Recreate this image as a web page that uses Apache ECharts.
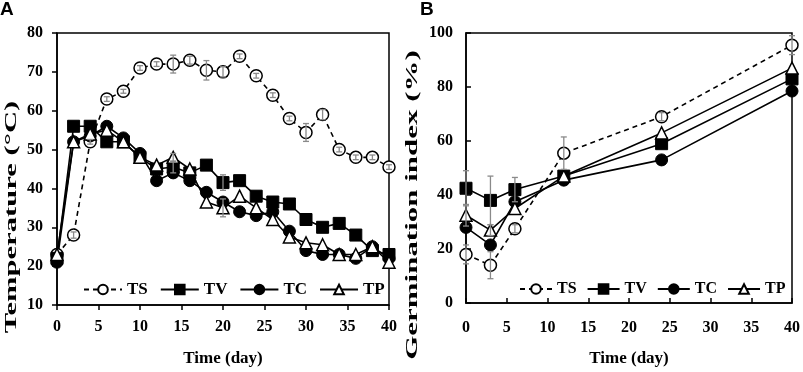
<!DOCTYPE html>
<html>
<head>
<meta charset="utf-8">
<script src="https://cdn.jsdelivr.net/npm/echarts@6/dist/echarts.min.js"></script>
<style>
html,body{margin:0;padding:0;background:#fff;}
#c{width:803px;height:372px;}
</style>
</head>
<body>
<div id="c"></div>
<script>
// ---------- Data ----------
const seriesNames = ['TS', 'TV', 'TC', 'TP'];
const xTicks = [0, 5, 10, 15, 20, 25, 30, 35, 40];

// Panel A: temperature (°C) vs time (day)
const daysA = [0, 2, 4, 6, 8, 10, 12, 14, 16, 18, 20, 22, 24, 26, 28, 30, 32, 34, 36, 38, 40];
const tsA = [23, 28, 52, 63, 65, 71, 72, 72, 73, 70.4, 70, 74, 69, 64, 58, 54.4, 59, 50, 48, 48, 45.5];
const tvA = [22, 56, 56, 52, 52, 48, 45, 45.5, 44, 46, 41.5, 42, 38, 36.5, 36, 32, 30, 31, 28, 24, 23];
const tcA = [21, 52, 53.5, 56, 53, 49, 42, 44, 42, 39, 36.5, 34, 33, 34, 29, 24, 23, 23, 22, 25, 22];
const tpA = [23, 52, 54, 55, 52, 48, 46, 48, 45, 36.5, 35, 38, 35, 32, 27.5, 26, 25.5, 23, 23, 25, 21];
const tsAErr = [0, 0.8, 0.6, 0.6, 0.5, 0.6, 0.6, 2.3, 1.0, 2.5, 1.3, 0.6, 0.6, 0.6, 0.6, 2.3, 1.3, 0.6, 0.6, 0.6, 0.6];
const tvAErr = [0, 0, 0, 0, 0, 0, 0, 1.5, 0, 0, 2.0, 0, 0, 0, 0, 0, 0, 0, 0, 0, 0];
const tcAErr = [0, 0, 0, 0, 0, 0, 0, 0, 0, 0, 0, 0, 0, 0, 0, 0, 0, 0, 0, 0, 0];
const tpAErr = [0, 0, 0, 0, 0, 0, 0, 1.0, 0, 0, 2.3, 0, 0, 0, 0, 0, 0, 0, 0, 0, 0];

// Panel B: germination index (%) vs time (day)
const daysB = [0, 3, 6, 12, 24, 40];
const tsB = [18, 14, 27.5, 55.5, 69, 95.5];
const tvB = [42.5, 38, 42, 47, 59, 83];
const tcB = [28, 21.5, 37.5, 45.5, 53, 78.5];
const tpB = [32.5, 27, 35, 47, 63, 87];
const tsBErr = [3.5, 5, 1.5, 6, 1.5, 3.5];
const tvBErr = [6.5, 9, 4.5, 0, 0, 0];
const tcBErr = [0, 0, 0, 0, 0, 0];
const tpBErr = [4, 2, 0, 0, 0, 0];

// ---------- Styles ----------
const FONT = 'Liberation Serif';
const styles = {
  TS: { symbol: 'circle', symbolSize: 12, itemStyle: { color: '#fff', borderColor: '#000', borderWidth: 1.5 }, lineStyle: { color: '#000', width: 1.6, type: [5, 4] } },
  TV: { symbol: 'rect', symbolSize: 12, itemStyle: { color: '#000', borderColor: '#000', borderWidth: 1 }, lineStyle: { color: '#000', width: 1.6 } },
  TC: { symbol: 'circle', symbolSize: 12, itemStyle: { color: '#000', borderColor: '#000', borderWidth: 1 }, lineStyle: { color: '#000', width: 1.6 } },
  TP: { symbol: 'triangle', symbolSize: 12, itemStyle: { color: '#fff', borderColor: '#000', borderWidth: 1.5 }, lineStyle: { color: '#000', width: 1.6 } }
};

function pairs(xs, ys) { return xs.map((x, i) => [x, ys[i]]); }
function triples(xs, ys, es) { return xs.map((x, i) => [x, ys[i], es[i]]); }

function lineSeries(name, idx, xs, ys) {
  const s = styles[name];
  return {
    name: name, type: 'line', xAxisIndex: idx, yAxisIndex: idx,
    data: pairs(xs, ys), symbol: s.symbol, symbolSize: s.symbolSize,
    showAllSymbol: true, itemStyle: s.itemStyle, lineStyle: s.lineStyle,
    emphasis: { disabled: true }, animation: false, z: 3
  };
}
function errSeries(idx, xs, ys, es) {
  return {
    type: 'custom', xAxisIndex: idx, yAxisIndex: idx, silent: true, animation: false, z: 5,
    data: triples(xs, ys, es),
    encode: { x: 0, y: 1 },
    renderItem: function (params, api) {
      const x = api.value(0), y = api.value(1), e = api.value(2);
      if (!(e > 0)) return null;
      const t = api.coord([x, y + e]), b = api.coord([x, y - e]);
      const st = { stroke: '#8a8a8a', lineWidth: 1.3 };
      return {
        type: 'group', children: [
          { type: 'line', shape: { x1: t[0], y1: t[1], x2: b[0], y2: b[1] }, style: st },
          { type: 'line', shape: { x1: t[0] - 3, y1: t[1], x2: t[0] + 3, y2: t[1] }, style: st },
          { type: 'line', shape: { x1: b[0] - 3, y1: b[1], x2: b[0] + 3, y2: b[1] }, style: st }
        ]
      };
    }
  };
}

const axisLbl = { color: '#000', fontFamily: FONT, fontWeight: 'bold', fontSize: 16 };
const axisLine = { show: true, lineStyle: { color: '#000', width: 1.5 } };

const chart = echarts.init(document.getElementById('c'), null, { renderer: 'canvas' });
chart.setOption({
  animation: false,
  backgroundColor: '#fff',
  textStyle: { fontFamily: FONT },
  grid: [
    { left: 57, top: 33, width: 332, height: 273, show: true, borderColor: '#000', borderWidth: 1.5, backgroundColor: 'transparent' },
    { left: 466, top: 33, width: 331, height: 272, show: true, borderColor: '#000', borderWidth: 1.5, backgroundColor: 'transparent' }
  ],
  xAxis: [
    { gridIndex: 0, type: 'value', min: xTicks[0], max: xTicks[xTicks.length - 1], interval: 5,
      name: 'Time (day)', nameLocation: 'middle', nameGap: 45,
      nameTextStyle: { color: '#000', fontFamily: FONT, fontWeight: 'bold', fontSize: 17 },
      axisLine: axisLine, axisTick: { show: true, inside: false, length: 5, lineStyle: { color: '#000', width: 1.5 } },
      axisLabel: Object.assign({ margin: 14 }, axisLbl), splitLine: { show: false } },
    { gridIndex: 1, type: 'value', min: xTicks[0], max: xTicks[xTicks.length - 1], interval: 5,
      name: 'Time (day)', nameLocation: 'middle', nameGap: 47,
      nameTextStyle: { color: '#000', fontFamily: FONT, fontWeight: 'bold', fontSize: 17 },
      axisLine: axisLine, axisTick: { show: true, inside: true, length: 5, lineStyle: { color: '#000', width: 1.5 } },
      axisLabel: Object.assign({ margin: 17 }, axisLbl), splitLine: { show: false } }
  ],
  yAxis: [
    { gridIndex: 0, type: 'value', min: 10, max: 80, interval: 10,
      axisLine: axisLine, axisTick: { show: true, inside: false, length: 5, lineStyle: { color: '#000', width: 1.5 } },
      axisLabel: Object.assign({ margin: 14 }, axisLbl), splitLine: { show: false } },
    { gridIndex: 1, type: 'value', min: 0, max: 100, interval: 20,
      axisLine: axisLine, axisTick: { show: true, inside: true, length: 5, lineStyle: { color: '#000', width: 1.5 } },
      axisLabel: Object.assign({ margin: 13 }, axisLbl), splitLine: { show: false } }
  ],
  legend: [
    { data: seriesNames, left: 78, top: 276, orient: 'horizontal', itemWidth: 38, itemHeight: 12, itemGap: 12,
      selectedMode: false, textStyle: { color: '#000', fontFamily: FONT, fontWeight: 'bold', fontSize: 17 } },
    { data: seriesNames, left: 514, top: 276, orient: 'horizontal', itemWidth: 32, itemHeight: 12, itemGap: 10,
      selectedMode: false, textStyle: { color: '#000', fontFamily: FONT, fontWeight: 'bold', fontSize: 16 } }
  ],
  graphic: [
    { type: 'text', left: 0, top: 0, style: { text: 'A', font: 'bold 19px "Liberation Sans"', fill: '#000' } },
    { type: 'text', left: 420, top: 0, style: { text: 'B', font: 'bold 19px "Liberation Sans"', fill: '#000' } },
    { type: 'text', x: 12, y: 217, rotation: Math.PI / 2, scaleX: 1.7, scaleY: 0.95,
      style: { text: 'Temperature (°C)', font: 'bold 18px "Liberation Serif"', fill: '#000', align: 'center', verticalAlign: 'middle' } },
    { type: 'text', x: 413, y: 205, rotation: Math.PI / 2, scaleX: 1.72, scaleY: 0.95,
      style: { text: 'Germination index (%)', font: 'bold 18px "Liberation Serif"', fill: '#000', align: 'center', verticalAlign: 'middle' } }
  ],
  series: [
    lineSeries('TS', 0, daysA, tsA),
    lineSeries('TV', 0, daysA, tvA),
    lineSeries('TC', 0, daysA, tcA),
    lineSeries('TP', 0, daysA, tpA),
    errSeries(0, daysA, tsA, tsAErr),
    errSeries(0, daysA, tvA, tvAErr),
    errSeries(0, daysA, tcA, tcAErr),
    errSeries(0, daysA, tpA, tpAErr),
    lineSeries('TS', 1, daysB, tsB),
    lineSeries('TV', 1, daysB, tvB),
    lineSeries('TC', 1, daysB, tcB),
    lineSeries('TP', 1, daysB, tpB),
    errSeries(1, daysB, tsB, tsBErr),
    errSeries(1, daysB, tvB, tvBErr),
    errSeries(1, daysB, tcB, tcBErr),
    errSeries(1, daysB, tpB, tpBErr)
  ]
});
</script>
</body>
</html>
